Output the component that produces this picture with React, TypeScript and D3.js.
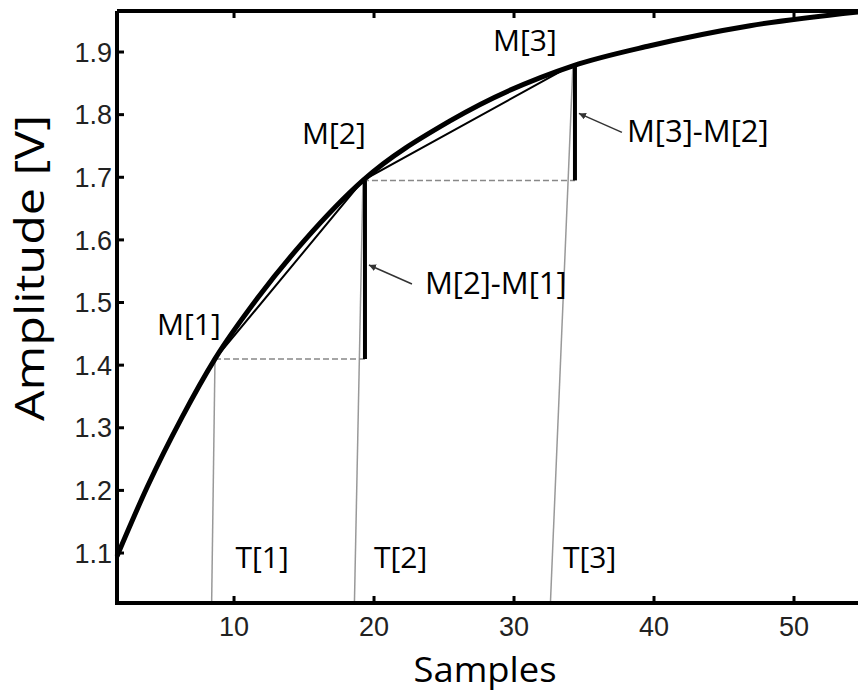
import React, { useEffect, useRef } from 'react';
import * as d3 from 'd3';

// curve (samples, volts)
const curveX = [1.64, 3.79, 6.29, 8.64, 11.71, 15.07, 19.21, 25.43, 34.21, 39.71, 46.86, 55];
const curveY = [1.095, 1.205, 1.317, 1.41, 1.508, 1.6, 1.695, 1.79, 1.878, 1.91, 1.942, 1.965];

// measurement points M[n] and where their T[n] lines meet the axis
const mX = [8.64, 19.21, 34.21];
const mY = [1.41, 1.695, 1.88];
const mLabels = ['M[1]', 'M[2]', 'M[3]'];
const tBottomX = [8.4, 18.6, 32.6];
const tLabels = ['T[1]', 'T[2]', 'T[3]'];
const tLabelX = [10.1, 20, 33.5];
const diffLabels = ['M[2]-M[1]', 'M[3]-M[2]'];
const arrowY = [1.56, 1.802];

const xTicks = [10, 20, 30, 40, 50];
const yTicks = [1.1, 1.2, 1.3, 1.4, 1.5, 1.6, 1.7, 1.8, 1.9];

const W = 858;
const H = 691;

export default function App() {
  const svgRef = useRef<SVGSVGElement>(null);

  useEffect(() => {
    const left = 117;
    const right = 864;
    const top = 11;
    const bottom = 603;

    const x = d3.scaleLinear().domain([1.64, 55]).range([left, right]);
    const y = d3.scaleLinear().domain([1.0202, 1.9655]).range([bottom, top]);

    const svg = d3.select(svgRef.current).html(null);

    svg
      .append('defs')
      .append('marker')
      .attr('id', 'head')
      .attr('viewBox', '0 0 10 10')
      .attr('refX', 10)
      .attr('refY', 5)
      .attr('markerWidth', 7)
      .attr('markerHeight', 7)
      .attr('markerUnits', 'userSpaceOnUse')
      .attr('orient', 'auto')
      .append('path')
      .attr('d', 'M0,0L10,5L0,10z')
      .attr('fill', '#333');

    const labelFont = "'Open Sans', sans-serif";
    const tickFont = "'Liberation Sans', Arial, sans-serif";

    // T[n] gray verticals
    svg
      .selectAll('.tline')
      .data(mX)
      .join('line')
      .attr('x1', (d) => x(d))
      .attr('y1', (d, i) => y(mY[i]))
      .attr('x2', (d, i) => x(tBottomX[i]))
      .attr('y2', bottom)
      .attr('stroke', '#999')
      .attr('stroke-width', 1.5);

    // dashed horizontals from M[n] to next M
    svg
      .selectAll('.hdash')
      .data(mX.slice(0, 2))
      .join('line')
      .attr('x1', (d) => x(d))
      .attr('x2', (d, i) => x(mX[i + 1]) + 2)
      .attr('y1', (d, i) => y(mY[i]))
      .attr('y2', (d, i) => y(mY[i]))
      .attr('stroke', '#888')
      .attr('stroke-width', 1.5)
      .attr('stroke-dasharray', '6,3');

    // chords
    svg
      .append('path')
      .attr('d', d3.line<number>().x((d) => x(d)).y((d, i) => y(mY[i]))(mX))
      .attr('fill', 'none')
      .attr('stroke', '#000')
      .attr('stroke-width', 2);

    // differences M[n+1]-M[n]
    svg
      .selectAll('.diff')
      .data(mX.slice(1))
      .join('line')
      .attr('x1', (d) => x(d) + 2)
      .attr('x2', (d) => x(d) + 2)
      .attr('y1', (d, i) => y(mY[i + 1]))
      .attr('y2', (d, i) => y(mY[i]))
      .attr('stroke', '#000')
      .attr('stroke-width', 4);

    // main curve
    svg
      .append('path')
      .attr(
        'd',
        d3
          .line<number>()
          .x((d) => x(d))
          .y((d, i) => y(curveY[i]))
          .curve(d3.curveMonotoneX)(curveX)
      )
      .attr('fill', 'none')
      .attr('stroke', '#000')
      .attr('stroke-width', 5);

    // axes
    svg
      .append('path')
      .attr('d', `M${left},${top}V${bottom}H${W + 2}M${left},${top}H${W + 2}`)
      .attr('fill', 'none')
      .attr('stroke', '#000')
      .attr('stroke-width', 4);

    svg
      .selectAll('.yt')
      .data(yTicks)
      .join('line')
      .attr('x1', left)
      .attr('x2', left + 7)
      .attr('y1', (d) => y(d))
      .attr('y2', (d) => y(d))
      .attr('stroke', '#000')
      .attr('stroke-width', 3);

    svg
      .selectAll('.xt')
      .data(xTicks)
      .join('path')
      .attr('d', (d) => `M${x(d)},${bottom}v-7M${x(d)},${top}v7`)
      .attr('stroke', '#000')
      .attr('stroke-width', 3);

    svg
      .selectAll('.ytl')
      .data(yTicks)
      .join('text')
      .attr('x', left - 5)
      .attr('y', (d) => y(d))
      .attr('dy', '0.36em')
      .attr('text-anchor', 'end')
      .attr('font-family', tickFont)
      .attr('font-size', 27)
      .attr('fill', '#222')
      .text((d) => d3.format('.1f')(d));

    svg
      .selectAll('.xtl')
      .data(xTicks)
      .join('text')
      .attr('x', (d) => x(d))
      .attr('y', bottom + 33)
      .attr('text-anchor', 'middle')
      .attr('font-family', tickFont)
      .attr('font-size', 27)
      .attr('fill', '#222')
      .text((d) => d);

    svg
      .append('text')
      .attr('transform', 'translate(44,268) rotate(-90)')
      .attr('text-anchor', 'middle')
      .attr('font-family', labelFont)
      .attr('font-size', 40)
      .attr('textLength', 306)
      .attr('lengthAdjust', 'spacingAndGlyphs')
      .text('Amplitude [V]');

    svg
      .append('text')
      .attr('x', 485)
      .attr('y', 682)
      .attr('text-anchor', 'middle')
      .attr('font-family', labelFont)
      .attr('font-size', 35)
      .attr('textLength', 143)
      .attr('lengthAdjust', 'spacingAndGlyphs')
      .text('Samples');

    // annotations
    const mOffset = [
      [-58, -24],
      [-61, -36],
      [-80, -14],
    ];
    svg
      .selectAll('.ml')
      .data(mLabels)
      .join('text')
      .attr('x', (d, i) => x(mX[i]) + mOffset[i][0])
      .attr('y', (d, i) => y(mY[i]) + mOffset[i][1])
      .attr('font-family', labelFont)
      .attr('font-size', 30)
      .text((d) => d);

    svg
      .selectAll('.tl')
      .data(tLabels)
      .join('text')
      .attr('x', (d, i) => x(tLabelX[i]))
      .attr('y', bottom - 35)
      .attr('font-family', labelFont)
      .attr('font-size', 30)
      .text((d) => d);

    svg
      .selectAll('.arrow')
      .data(arrowY)
      .join('line')
      .attr('x1', (d, i) => x(mX[i + 1]) + 49)
      .attr('y1', (d) => y(d) + 19)
      .attr('x2', (d, i) => x(mX[i + 1]) + 6)
      .attr('y2', (d) => y(d))
      .attr('stroke', '#333')
      .attr('stroke-width', 1.5)
      .attr('marker-end', 'url(#head)');

    svg
      .selectAll('.dl')
      .data(diffLabels)
      .join('text')
      .attr('x', (d, i) => x(mX[i + 1]) + [62, 54][i])
      .attr('y', (d, i) => y(arrowY[i]) + 29)
      .attr('font-family', labelFont)
      .attr('font-size', 31)
      .text((d) => d);
  }, []);

  return (
    <svg
      ref={svgRef}
      width={W}
      height={H}
      style={{ position: 'absolute', left: 0, top: 0, background: '#fff' }}
    />
  );
}
